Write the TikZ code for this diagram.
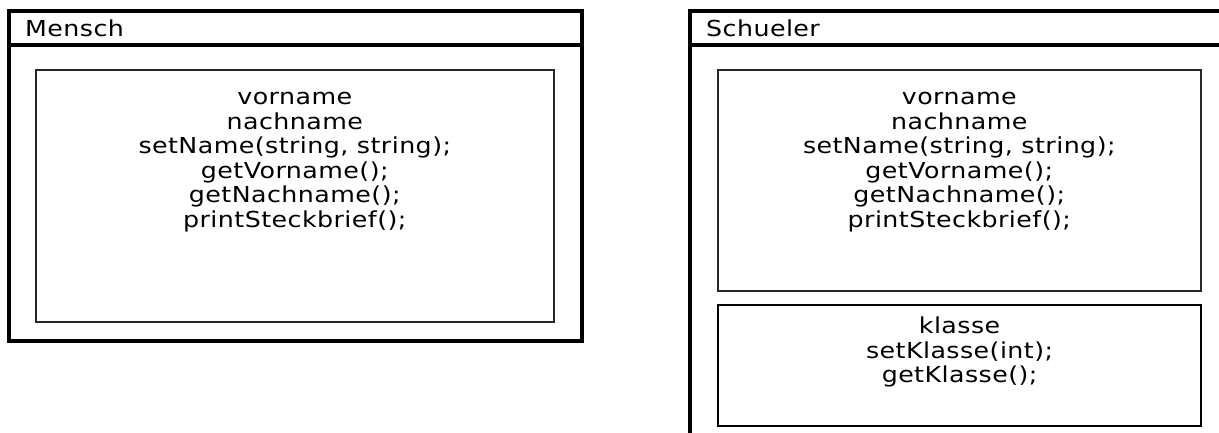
\documentclass[tikz,border=0pt]{standalone}
\usepackage{fontspec}
\setmainfont{DejaVu Sans}[FakeStretch=1.15,LetterSpace=2.0]
\begin{document}
\begin{tikzpicture}[x=1pt,y=1pt,
  outerbox/.style={draw=black,line width=3.2pt,fill=none},
  innerbox/.style={draw=black!85,line width=1.6pt},
  innerboxb/.style={draw=black,line width=2.2pt},
  members/.style={font=\fontsize{22}{24.5}\selectfont,align=center,inner sep=0pt,anchor=north},
  classname/.style={font=\fontsize{22}{24.5}\selectfont,inner sep=0pt,anchor=west}]
\useasboundingbox (0,0) rectangle (1219,-432);
\clip (0,0) rectangle (1219,-432);
% Mensch
\draw[outerbox] (9,-11) rectangle (582,-341);
\coordinate (mhl) at (9,-45);
\coordinate (mhr) at (582,-45);
\draw[line width=3.2pt] (mhl) -- (mhr);
\node[classname] (mname) at (25,-28) {Mensch};
\node[innerbox,minimum width=518pt,minimum height=252pt,anchor=north west] (mbox) at (35,-69) {};
\node[members] (mtext) at ([yshift=-23pt]mbox.north) {vorname\\nachname\\setName(string, string);\\getVorname();\\getNachname();\\printSteckbrief();};
% Schueler
\draw[outerbox] (690,-11) rectangle (1240,-450);
\coordinate (shl) at (690,-45);
\coordinate (shr) at (1240,-45);
\draw[line width=3.2pt] (shl) -- (shr);
\node[classname] (sname) at (706,-28) {Schueler};
\node[innerbox,minimum width=483pt,minimum height=221pt,anchor=north west] (sbox) at (717,-69) {};
\node[members] (stext) at ([yshift=-23pt]sbox.north) {vorname\\nachname\\setName(string, string);\\getVorname();\\getNachname();\\printSteckbrief();};
\node[innerboxb,minimum width=483pt,minimum height=121pt,anchor=north west] (kbox) at (717,-304) {};
\node[members] (ktext) at ([yshift=-13pt]kbox.north) {klasse\\setKlasse(int);\\getKlasse();};
\end{tikzpicture}
\end{document}
